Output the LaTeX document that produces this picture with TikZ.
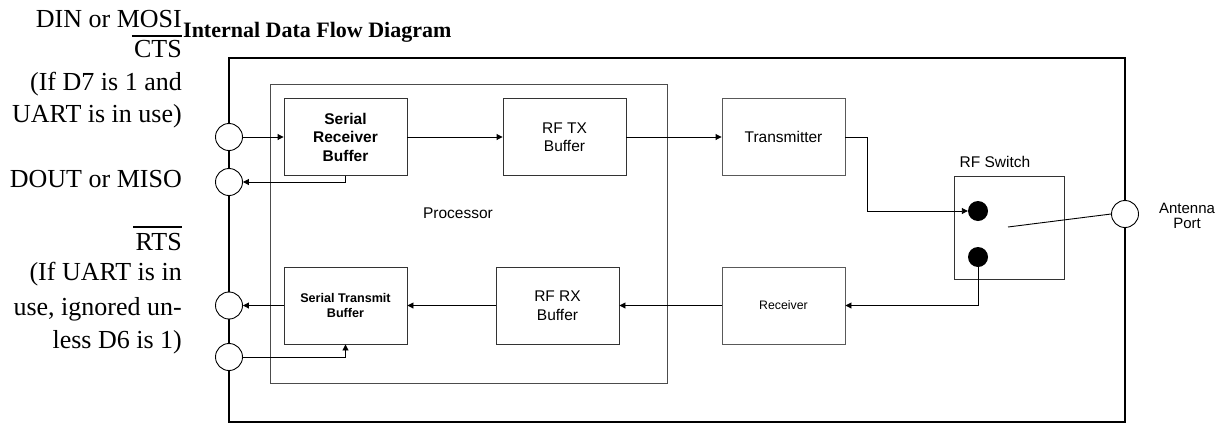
\documentclass[tikz,border=0pt]{standalone}
\usepackage{fontspec}
\setmainfont{Liberation Serif}
\setsansfont{Liberation Sans}
\usetikzlibrary{arrows.meta,calc}
\begin{document}
\begin{tikzpicture}[x=1pt,y=-1pt,
  blk/.style={draw=black!80,line width=0.9pt,minimum width=123pt,minimum height=77pt,inner sep=0pt,align=center},
  grayblk/.style={blk,draw=black!65},
  fa/.style={font=\sffamily\fontsize{15.5}{18.5}\selectfont},
  fb/.style={font=\sffamily\bfseries\fontsize{15.5}{18.5}\selectfont},
  fs/.style={font=\sffamily\bfseries\fontsize{12.6}{14.5}\selectfont},
  fr/.style={font=\sffamily\fontsize{12.3}{14}\selectfont},
  port/.style={circle,draw=black,fill=white,line width=0.9pt,minimum size=27pt,inner sep=0pt},
  dotc/.style={circle,fill=black,minimum size=20pt,inner sep=0pt},
  arr/.style={draw=black,line width=0.9pt,-{Triangle[length=6pt,width=6pt]}},
  wire/.style={draw=black,line width=0.9pt},
  lbl/.style={anchor=base east,inner sep=0pt,font=\fontsize{26}{30}\selectfont},
  ovl/.style={line width=1.4pt},
  plain/.style={inner sep=0pt,align=center}]
\useasboundingbox (0,0) rectangle (1227,424);

% outer module box and processor box
\node[draw=black,line width=1.8pt,minimum width=896pt,minimum height=364pt,inner sep=0pt] (outer) at (677,240) {};
\node[draw=black!70,line width=1pt,minimum width=397pt,minimum height=299pt,inner sep=0pt] (proc) at (468.5,233.5) {};
\node[plain,fa] (proclbl) at (458,213) {Processor};

% title
\node[anchor=base west,inner sep=0pt,font=\bfseries\fontsize{22}{26}\selectfont] (title) at (183,37) {Internal Data Flow Diagram};

% blocks
\node[blk,fb] (srb) at (345.5,137) {Serial\\Receiver\\Buffer};
\node[blk,fa] (rftx) at (564.5,137) {RF TX\\Buffer};
\node[grayblk,fa] (tx) at (783.5,137) {Transmitter};
\node[blk,fs] (stb) at (345.5,305.5) {Serial Transmit\\Buffer};
\node[blk,fa] (rfrx) at (557.5,305.5) {RF RX\\Buffer};
\node[grayblk,fr] (rx) at (783.5,305.5) {Receiver};
\node[draw=black!80,line width=0.9pt,minimum width=110pt,minimum height=103pt,inner sep=0pt] (sw) at (1009,227.5) {};
\node[plain,fa] (swlbl) at (995,162) {RF Switch};
\node[dotc] (dot1) at (978,211) {};
\node[dotc] (dot2) at (978,257) {};
\coordinate (swp) at (1008,227);

% ports
\node[port] (c1) at (229,137) {};
\node[port] (c2) at (229,182) {};
\node[port] (c3) at (229,305.5) {};
\node[port] (c4) at (229,357) {};
\node[port] (ant) at (1125,214) {};
\node[plain,font=\sffamily\fontsize{15}{15}\selectfont] (antlbl) at (1187,216) {Antenna\\Port};

% left labels
\node[lbl] (din) at (182,27) {DIN or MOSI};
\node[lbl] (cts) at (182,57) {CTS};
\node[lbl] (cts1) at (182,90) {(If D7 is 1 and};
\node[lbl] (cts2) at (182,122) {UART is in use)};
\node[lbl] (dout) at (182,187) {DOUT or MISO};
\node[lbl] (rts) at (182,250) {RTS};
\node[lbl] (rts1) at (182,280) {(If UART is in};
\node[lbl] (rts2) at (182,315) {use, ignored un-};
\node[lbl] (rts3) at (182,348) {less D6 is 1)};
\draw[ovl] ([xshift=-2pt,yshift=21pt]cts.base west) -- ([yshift=21pt]cts.base east);
\draw[ovl] ([xshift=-2pt,yshift=23pt]rts.base west) -- ([yshift=23pt]rts.base east);

% connectors
\draw[arr] (c1.east) -- (srb.west);
\draw[arr] (srb.south) |- (c2.east);
\draw[arr] (srb.east) -- (rftx.west);
\draw[arr] (rftx.east) -- (tx.west);
\draw[arr] (tx.east) -- ++(22,0) |- (dot1.west);
\draw[arr] (dot2.south) |- (rx.east);
\draw[arr] (rx.west) -- (rfrx.east);
\draw[arr] (rfrx.west) -- (stb.east);
\draw[arr] (stb.west) -- (c3.east);
\draw[arr] (c4.east) -| (stb.south);
\draw[wire] (swp) -- (ant.west);
\end{tikzpicture}
\end{document}
